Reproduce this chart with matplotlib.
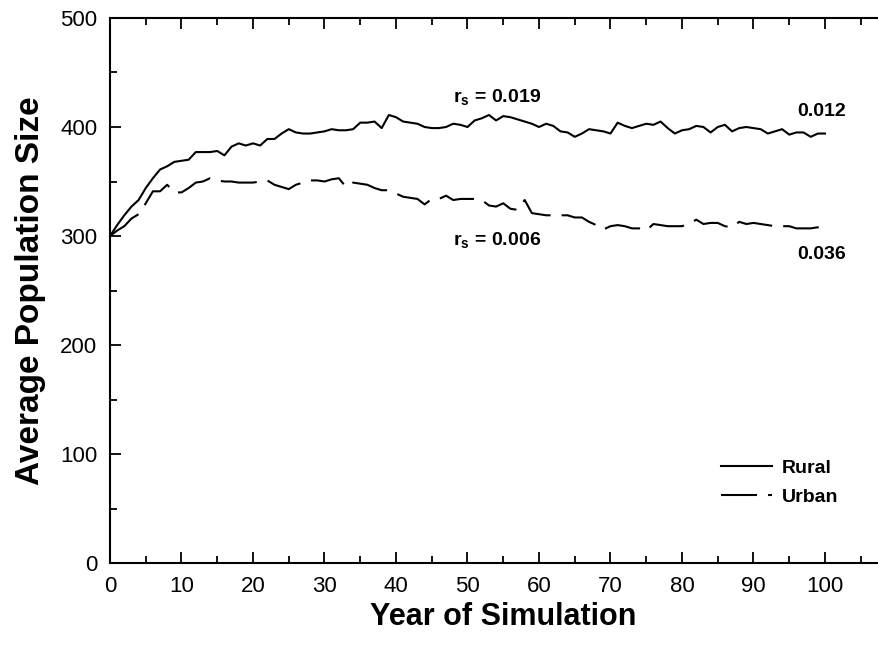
import matplotlib
matplotlib.use('Agg')
import matplotlib.pyplot as plt
from matplotlib.ticker import MultipleLocator

plt.rcParams['font.family'] = ['Liberation Sans', 'DejaVu Sans']
plt.rcParams['mathtext.fontset'] = 'custom'
plt.rcParams['mathtext.rm'] = 'Liberation Sans'
plt.rcParams['mathtext.bf'] = 'Liberation Sans:bold'

# Data
years = list(range(0, 101))

rural = [300, 310, 319, 327, 333, 344, 353, 361, 364, 368,
         369, 370, 377, 377, 377, 378, 374, 382, 385, 383,
         385, 383, 389, 389, 394, 398, 395, 394, 394, 395,
         396, 398, 397, 397, 398, 404, 404, 405, 399, 411,
         409, 405, 404, 403, 400, 399, 399, 400, 403, 402,
         400, 406, 408, 411, 406, 410, 409, 407, 405, 403,
         400, 403, 401, 396, 395, 391, 394, 398, 397, 396,
         394, 404, 401, 399, 401, 403, 402, 405, 399, 394,
         397, 398, 401, 400, 395, 400, 402, 396, 399, 400,
         399, 398, 394, 396, 398, 393, 395, 395, 391, 394,
         394]

urban = [300, 305, 309, 316, 320, 330, 341, 341, 347, 340,
         340, 344, 349, 350, 353, 351, 350, 350, 349, 349,
         349, 350, 351, 347, 345, 343, 347, 349, 351, 351,
         350, 352, 353, 345, 349, 348, 347, 344, 342, 342,
         339, 336, 335, 334, 329, 334, 334, 337, 333, 334,
         334, 334, 333, 328, 327, 330, 325, 324, 333, 321,
         320, 319, 319, 319, 319, 317, 317, 313, 310, 306,
         309, 310, 309, 307, 307, 305, 311, 310, 309, 309,
         309, 311, 315, 311, 312, 312, 309, 308, 313, 311,
         312, 311, 310, 309, 309, 309, 307, 307, 307, 308,
         305]

series_labels = ['Rural', 'Urban']
rs_labels = ['0.019', '0.006']
end_labels = ['0.012', '0.036']

fig = plt.figure(figsize=(8.79, 6.54), dpi=100)
# axes runs past the right edge of the picture, like in the original
ax = fig.add_axes([110 / 879, 91 / 654, 786.5 / 879, 545 / 654])

ax.plot(years, rural, color='black', lw=1.5, label=series_labels[0])
ax.plot(years, urban, color='black', lw=1.5, dashes=(17.3, 5.3), label=series_labels[1])

ax.set_xlim(0, 110)
ax.set_ylim(0, 500)
ax.xaxis.set_major_locator(MultipleLocator(10))
ax.xaxis.set_minor_locator(MultipleLocator(5))
ax.yaxis.set_major_locator(MultipleLocator(100))
ax.yaxis.set_minor_locator(MultipleLocator(50))
ax.set_xticks(range(0, 101, 10))
ax.tick_params(which='both', direction='in', top=True, right=False, width=1.3, labelsize=16)
ax.tick_params(which='major', length=8, pad=9)
ax.tick_params(which='minor', length=5)
for s in ax.spines.values():
  s.set_linewidth(1.5)

ax.set_xlabel('Year of Simulation', fontsize=22, fontweight='bold', labelpad=4)
ax.set_ylabel('Average Population Size', fontsize=24, fontweight='bold', labelpad=10)

ax.text(48, 427, r'$\mathbf{r}_\mathbf{s}$ = ' + rs_labels[0], fontsize=14, fontweight='bold', va='center')
ax.text(48, 296, r'$\mathbf{r}_\mathbf{s}$ = ' + rs_labels[1], fontsize=14, fontweight='bold', va='center')
ax.text(96.1, 414, end_labels[0], fontsize=14, fontweight='bold', va='center')
ax.text(96.1, 283, end_labels[1], fontsize=14, fontweight='bold', va='center')

leg = ax.legend(loc='lower left', bbox_to_anchor=(0.755, 0.072), frameon=False,
                prop={'weight': 'bold', 'size': 14}, handlelength=2.6, handletextpad=0.5,
                labelspacing=0.6)

fig.savefig('out.png', dpi=100)
